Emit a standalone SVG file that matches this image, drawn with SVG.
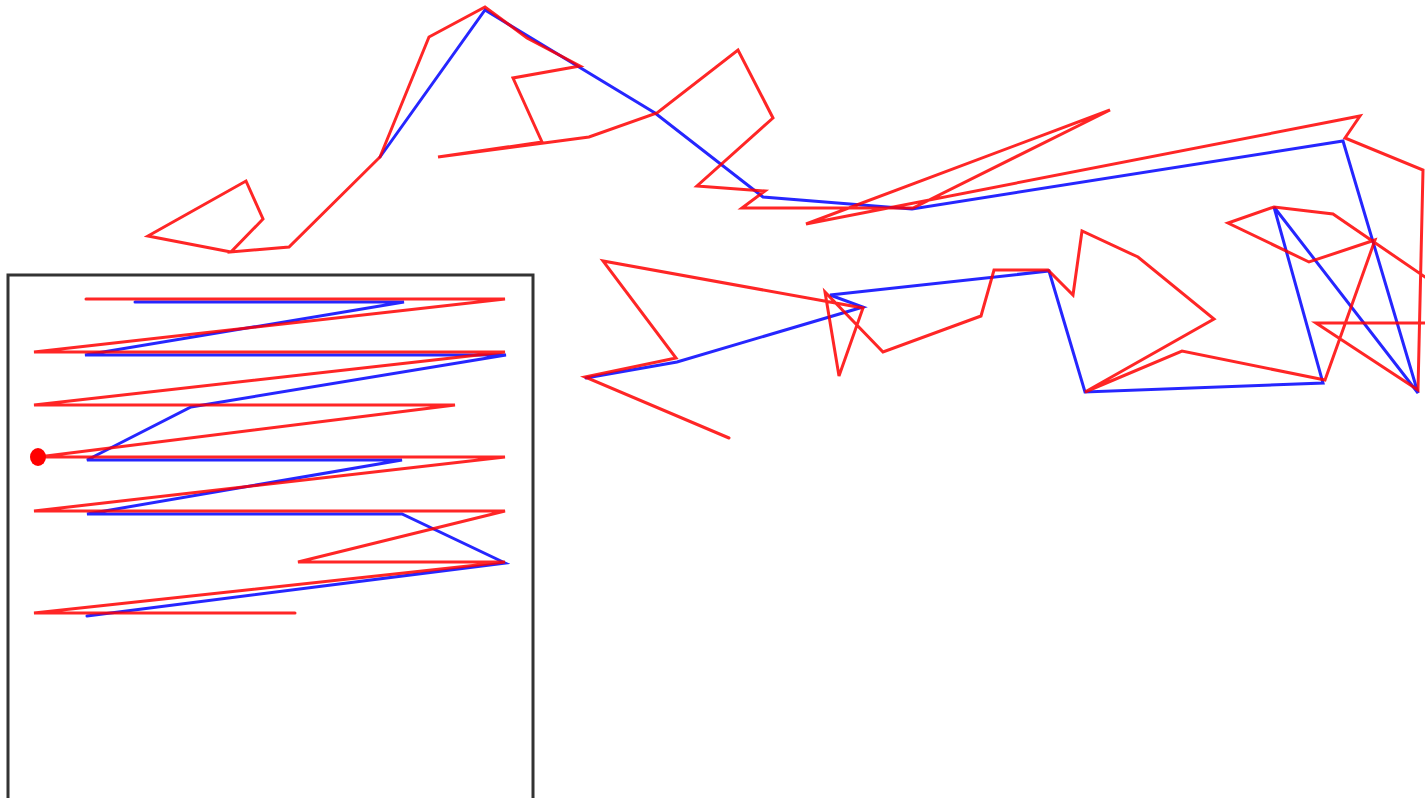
<svg xmlns="http://www.w3.org/2000/svg" width="1425" height="798" viewBox="0 0 1425 798">
<style>
.frame{fill:none;stroke:#333;stroke-width:3}
.blue{fill:none;stroke:#0000ff;stroke-opacity:0.85;stroke-width:3;stroke-linejoin:miter;stroke-linecap:round}
.red{fill:none;stroke:#ff0000;stroke-opacity:0.85;stroke-width:3;stroke-linejoin:miter;stroke-linecap:round}
</style>
<rect width="1425" height="798" fill="#fff"/>
<g id="box">
<rect class="frame" x="8" y="275" width="525" height="560"/>
</g>
<g id="connectors">
<polyline class="blue" points="135,302 404,302 85,355 506,355 191,407 87,460 402,460 87,514 402,514 505,563 87,616"/>
<polyline class="blue" points="586,378 677,362 863,307 830,295 1049,271 1085,392 1323,383 1274,207 1418,393 1343,141 912,209 763,197 655,113 485,10 380,157"/>
<polyline class="red" points="86,299 505,299 34,352 505,352 34,405 455,405 38,457 505,457 34,511 505,511 298,562 505,562 34,613 295,613"/>
<polyline class="red" points="729,438 585,377 676,358 603,261 863,308 839,376 825,292 883,352 981,316 994,270 1048,270 1073,295 1082,231 1138,257 1214,319 1085,392 1182,351 1325,380 1375,240 1309,262 1228,223 1274,207 1333,214 1460,301 1460,323 1316,323 1418,390 1423,170 1345,138 1360,116 806,224 1110,110 913,208 742,208 765,191 697,186 773,118 738,50 657,113 589,137 438,157 542,142 513,78 580,66 527,38 485,7 429,37 380,157 289,247 231,252 263,219 246,181 148,236 231,252"/>
</g>
<g id="start-dot">
<ellipse cx="38" cy="457" rx="8" ry="9" fill="#ff0000"/>
</g>
</svg>
